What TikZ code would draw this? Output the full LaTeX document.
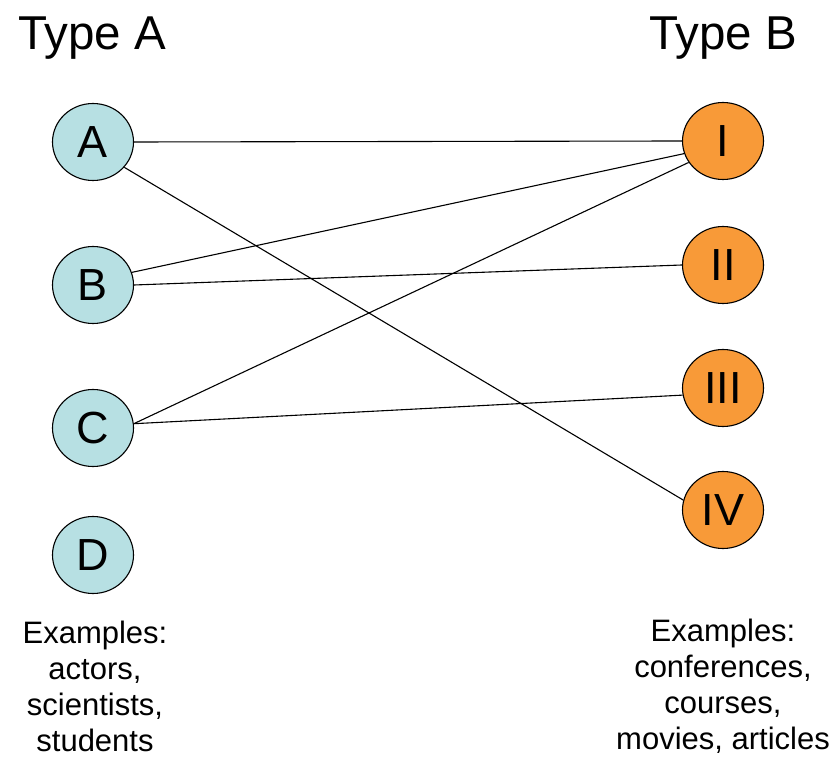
\documentclass[tikz,border=0pt]{standalone}
\usepackage{fontspec}
\setmainfont{Liberation Sans}
\usetikzlibrary{shapes.geometric}

\definecolor{lightteal}{RGB}{183,224,227}
\definecolor{brightorange}{RGB}{248,154,56}

\tikzset{
    vertex/.style={ellipse,draw=black,line width=1.1pt,minimum width=81pt,minimum height=77pt,inner sep=0pt,font=\fontsize{45}{48}\selectfont},
    typea/.style={vertex,fill=lightteal},
    typeb/.style={vertex,fill=brightorange},
    heading/.style={anchor=base,inner sep=0pt,font=\fontsize{47.5}{52}\selectfont},
    examples/.style={anchor=base,align=center,inner sep=0pt,font=\fontsize{31}{36}\selectfont},
    link/.style={line width=1.1pt}
}

\begin{document}
\begin{tikzpicture}[x=1pt,y=1pt]
\useasboundingbox (0,0) rectangle (837,758);

% Headings
\node[heading] (headA) at (92,708) {Type A};
\node[heading] (headB) at (723,708) {Type B};

% Type A nodes
\node[typea] (A) at (93,616) {A};
\node[typea] (B) at (93,473) {B};
\node[typea] (C) at (93,330) {C};
\node[typea] (D) at (93,203) {D};

% Type B nodes
\node[typeb] (I) at (723,617) {I};
\node[typeb] (II) at (723,493) {II};
\node[typeb] (III) at (723,370) {III};
\node[typeb] (IV) at (723,248) {IV};

% Edges
\draw[link] (A.east) -- (I.west);
\draw[link] (A.321) -- (IV.166);
\draw[link] (B.18) -- (I.198);
\draw[link] (B.east) -- (II.west);
\draw[link] (C.6) -- (I.212);
\draw[link] (C.6) -- (III.190);

% Examples (base is the last line)
\node[examples] (exA) at (95,7) {Examples:\\actors,\\scientists,\\students};
\node[examples] (exB) at (723,9) {Examples:\\conferences,\\courses,\\movies, articles};

\end{tikzpicture}
\end{document}
